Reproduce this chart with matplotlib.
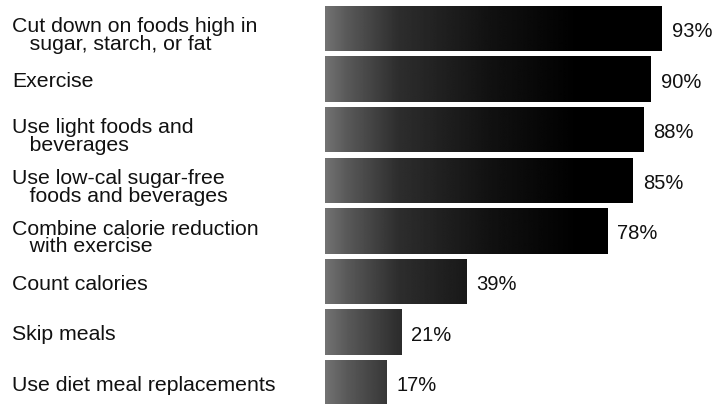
import numpy as np
import matplotlib.pyplot as plt
from matplotlib import transforms

# --- datos ---
labels = [
    "Cut down on foods high in\n   sugar, starch, or fat",
    "Exercise",
    "Use light foods and\n   beverages",
    "Use low-cal sugar-free\n   foods and beverages",
    "Combine calorie reduction\n   with exercise",
    "Count calories",
    "Skip meals",
    "Use diet meal replacements",
]
values = [93, 90, 88, 85, 78, 39, 21, 17]

plt.rcParams['font.family'] = ['Liberation Sans', 'DejaVu Sans']

W, H = 727, 404
fig = plt.figure(figsize=(W / 100, H / 100), dpi=100)
ax = fig.add_axes([325 / W, 0, 1 - 325 / W, 1])

px_per_pct = 3.62
ax.set_xlim(0, (W - 325) / px_per_pct)
pitch = 50.6
ax.set_ylim((H - 28.5) / pitch, -28.5 / pitch)
ax.axis('off')

# desplazamiento vertical en pixeles (hacia abajo)
def down(px):
    return transforms.ScaledTranslation(0, -px / 100, fig.dpi_scale_trans)

# degradado gris -> negro (imita la trama de puntos del original)
gx = np.linspace(0, 100, 400)
shade = np.interp(gx, [0, 6, 20, 45, 70, 100], [0.45, 0.35, 0.18, 0.07, 0.0, 0.0])
grad = np.tile(shade, (2, 1))

ypos = np.arange(len(values))
bars = ax.barh(ypos, values, height=0.9, color='none', edgecolor='none')
for bar, v in zip(bars, values):
    y0 = bar.get_y()
    im = ax.imshow(grad, cmap='gray', vmin=0, vmax=1, aspect='auto',
                   extent=[0, 100, y0 + bar.get_height(), y0],
                   interpolation='bilinear')
    im.set_clip_path(bar)
    ax.text(v + 10 / px_per_pct, y0 + bar.get_height() / 2, f"{v}%",
            transform=ax.transData + down(8.5),
            va='baseline', ha='left', fontsize=14.5, color='#111111')

# etiquetas: la linea base que se alinea es la de la ultima linea
trans = transforms.blended_transform_factory(fig.transFigure, ax.transData)
for y, lab in zip(ypos, labels):
    off = 21.5 if "\n" in lab else 8
    fig.text(12 / W, y, lab, transform=trans + down(off), va='baseline',
             ha='left', fontsize=15.3, linespacing=0.92, color='#111111')

fig.savefig('out.png', dpi=100)
